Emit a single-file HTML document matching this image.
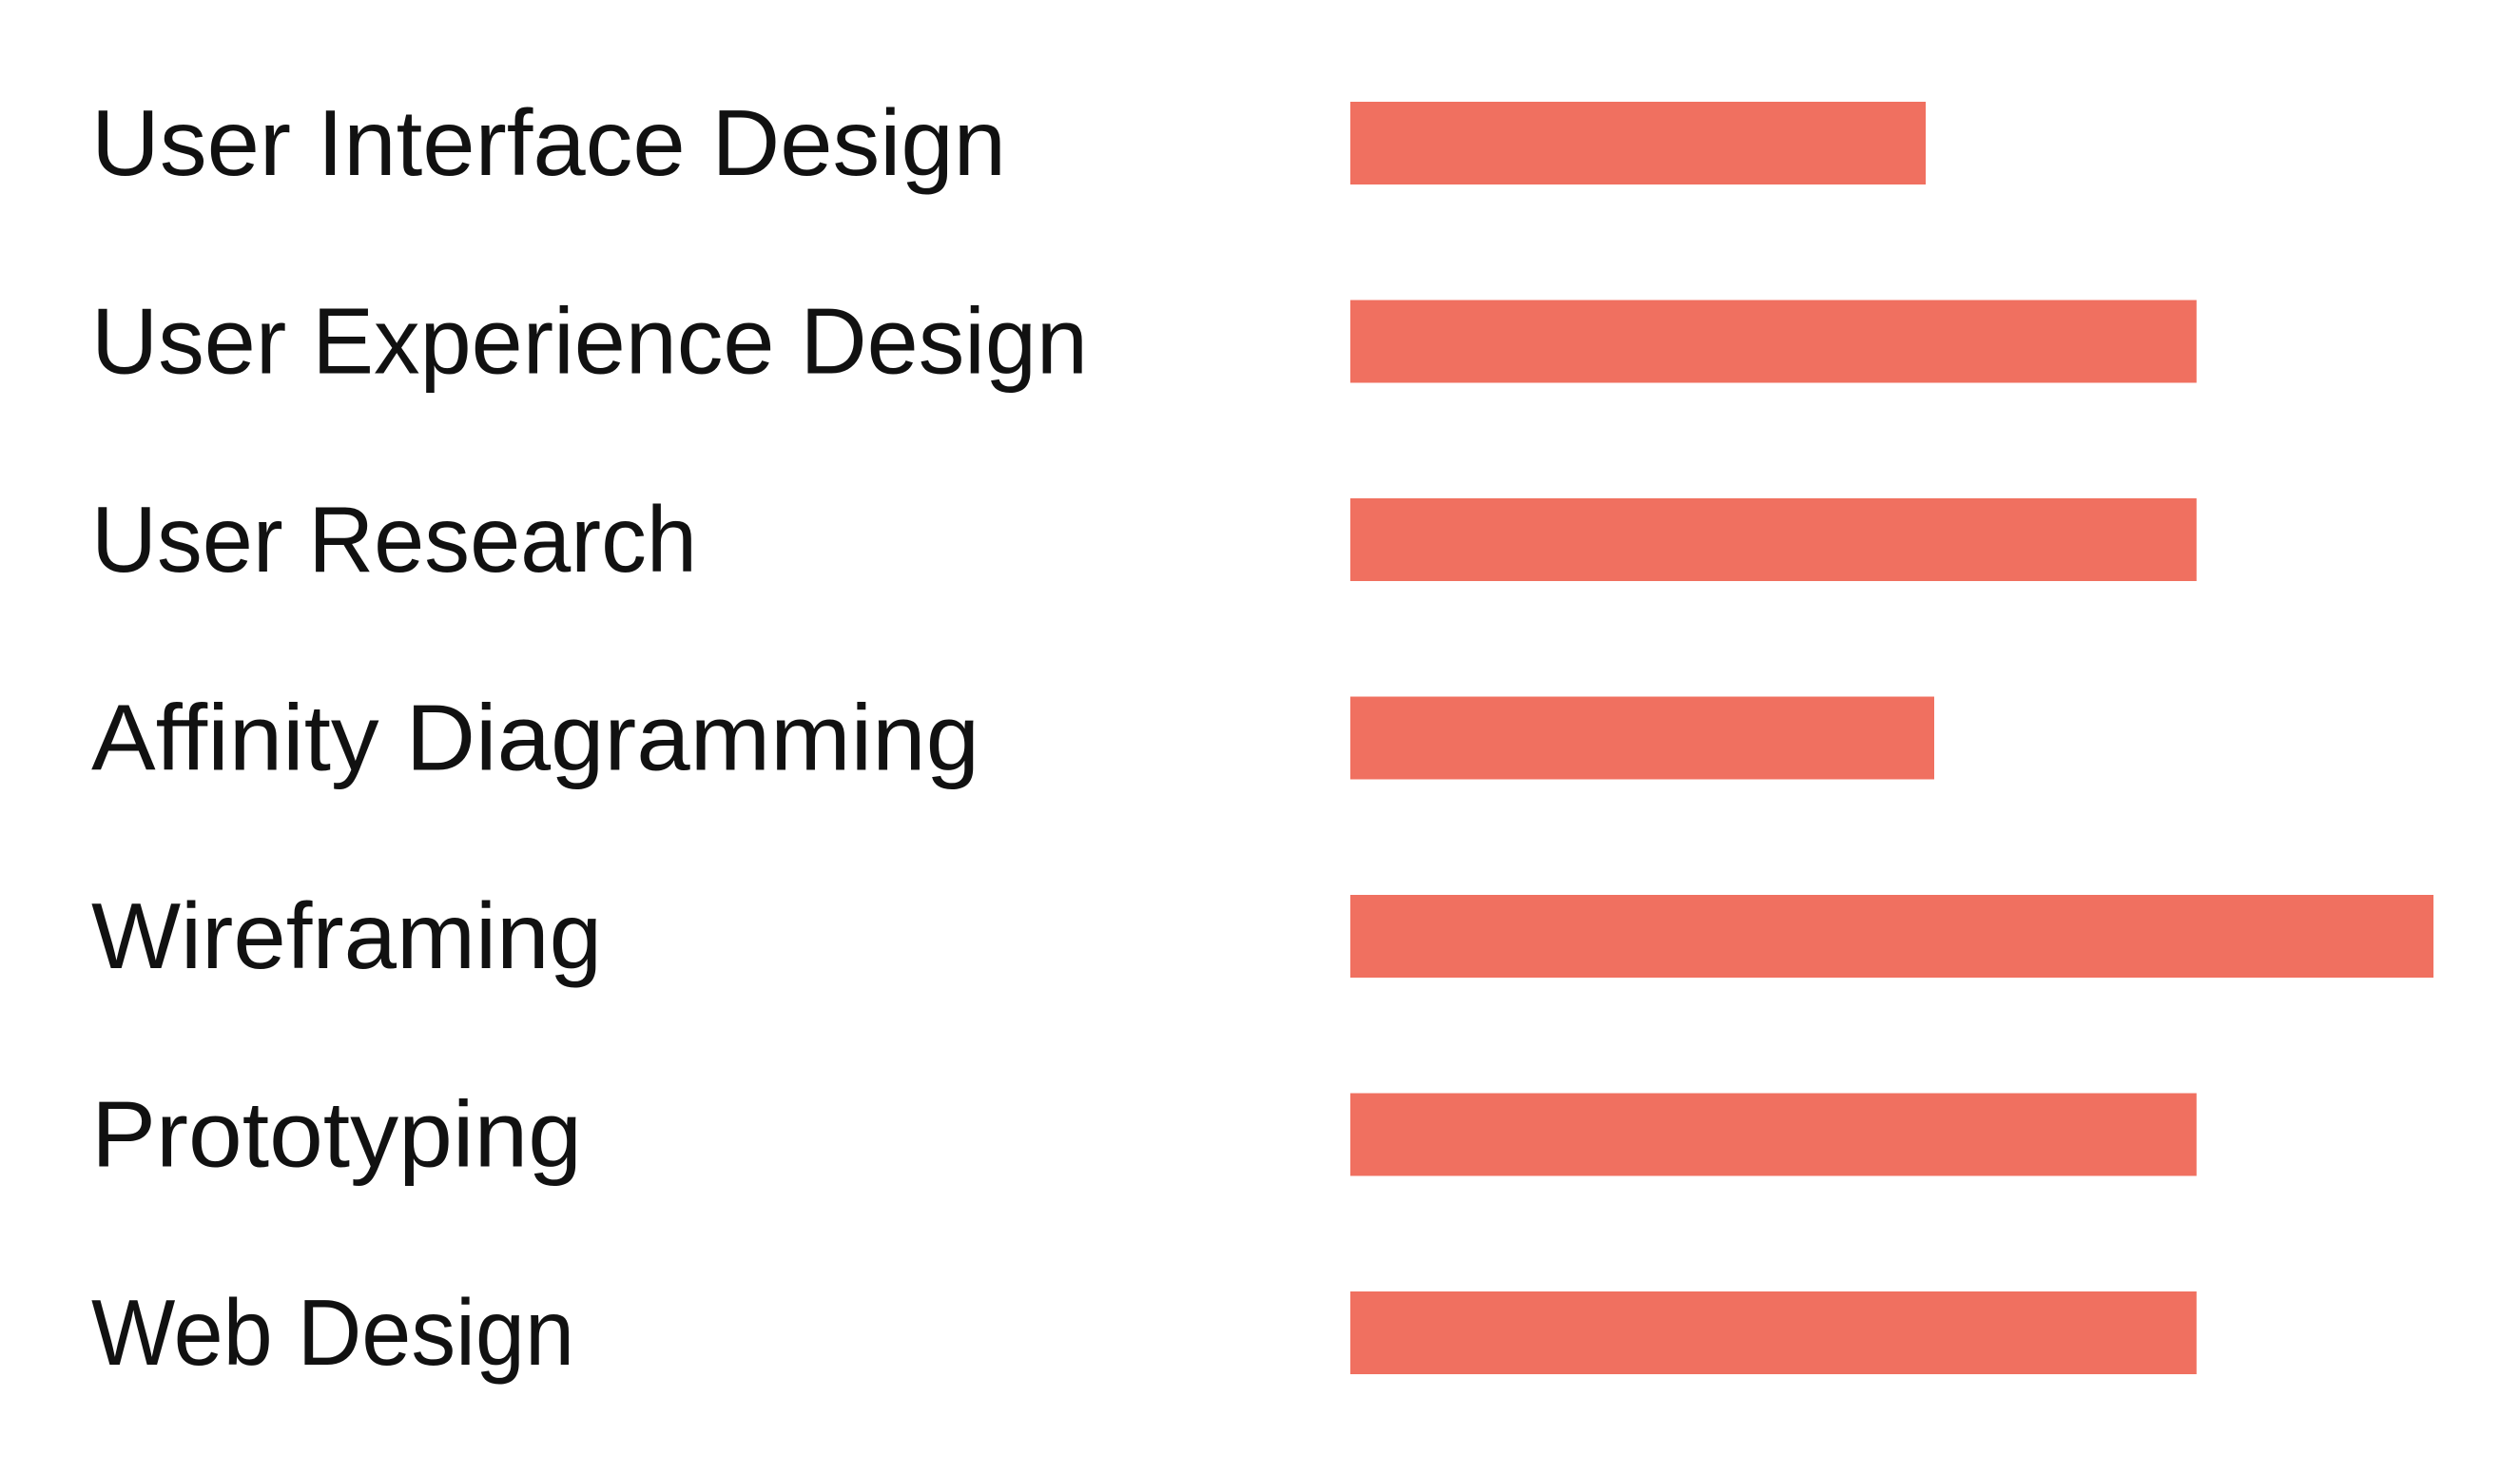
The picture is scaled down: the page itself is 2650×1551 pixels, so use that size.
<!DOCTYPE html>
<html><head><meta charset="utf-8"><style>
html,body{margin:0;padding:0;background:#fff;width:2650px;height:1551px;overflow:hidden}
text{font-family:"Liberation Sans",sans-serif;fill:#111}
</style></head><body>
<svg id="chart" width="2650" height="1551" xmlns="http://www.w3.org/2000/svg"></svg>
<script>
const categories = ["User Interface Design","User Experience Design","User Research","Affinity Diagramming","Wireframing","Prototyping","Web Design"];
const values = [3.4, 5.0, 5.0, 3.45, 6.4, 5.0, 5.0];
const labelWidths = [962, 1048, 637, 934, 537, 516, 508];

const svg = document.getElementById('chart');
const NS = 'http://www.w3.org/2000/svg';
const x0 = 1420, unit = 1139 / 6.4;
const xScale = v => v * unit;
const yBand = i => 107 + i * 208.5;
const barH = 87;

categories.forEach((c, i) => {
  const t = document.createElementNS(NS, 'text');
  
  
  t.setAttribute('x', 96);
  t.setAttribute('y', yBand(i) + 77);
  t.setAttribute('font-size', 98);
  t.setAttribute('textLength', labelWidths[i]);
  t.setAttribute('lengthAdjust', 'spacingAndGlyphs');
  t.textContent = c;
  svg.appendChild(t);

  const r = document.createElementNS(NS, 'rect');
  
  
  r.setAttribute('x', x0);
  r.setAttribute('y', yBand(i));
  r.setAttribute('width', xScale(values[i]));
  r.setAttribute('height', barH);
  r.setAttribute('fill', '#F07060');
  svg.appendChild(r);
});
</script>
</body></html>
